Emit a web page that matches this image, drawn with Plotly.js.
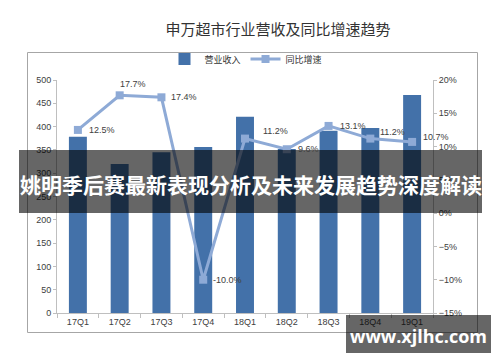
<!DOCTYPE html>
<html>
<head>
<meta charset="utf-8">
<script src="https://cdn.plot.ly/plotly-3.0.1.min.js"></script>
<style>
  html, body { margin: 0; padding: 0; background: #ffffff; }
  #chart { width: 500px; height: 362px; }
</style>
</head>
<body>
<div id="chart"></div>
<script>
// ---- data ----
const categories = ['17Q1', '17Q2', '17Q3', '17Q4', '18Q1', '18Q2', '18Q3', '18Q4', '19Q1'];
const revenue = [378, 320, 345, 356, 421, 352, 391, 397, 468];
const growth = [12.5, 17.7, 17.4, -10.0, 11.2, 9.6, 13.1, 11.2, 10.7];
const revenueName = '营业收入';
const growthName = '同比增速';
const chartTitle = '申万超市行业营收及同比增速趋势';
const bannerText = '姚明季后赛最新表现分析及未来发展趋势深度解读';
const watermarkText = 'www.xjlhc.com';

// ---- layout geometry (pixels) ----
const W = 500, H = 362;
const M = { l: 57, r: 67, t: 80, b: 49 };
const PW = W - M.l - M.r, PH = H - M.t - M.b;
const px = x => (x - M.l) / PW;
const py = y => (H - M.b - y) / PH;

const numFont = 'Liberation Sans, Arial, sans-serif';
const cjkFont = 'Noto Sans CJK SC, sans-serif';
const textCol = '#404040';
const barCol = '#4371a9';
const lineCol = '#8eaad6';

// label offsets relative to each marker (pixels)
const labelShift = [[9, 0], [-2, 11], [8, 0], [8, 0], [16, 8], [9, 0], [9, 0], [8, 7], [9, 5]];

const traces = [
  {
    type: 'bar', name: revenueName, x: categories, y: revenue,
    marker: { color: barCol }, yaxis: 'y', hoverinfo: 'x+y'
  },
  {
    type: 'scatter', mode: 'lines+markers', name: growthName, x: categories, y: growth,
    yaxis: 'y2', line: { color: lineCol, width: 3 },
    marker: { symbol: 'square', size: 8, color: lineCol }
  }
];

const annotations = growth.map((v, i) => ({
  x: categories[i], y: v, xref: 'x', yref: 'y2',
  text: v.toFixed(1) + '%', showarrow: false,
  xanchor: 'left', yanchor: 'middle',
  xshift: labelShift[i][0], yshift: labelShift[i][1],
  font: { family: numFont, size: 9, color: textCol }
}));

annotations.push({
  xref: 'paper', yref: 'paper', x: px(250.5), y: py(184),
  text: '<b>' + bannerText + '</b>', showarrow: false,
  xanchor: 'center', yanchor: 'middle',
  font: { family: cjkFont, size: 21, color: '#ffffff' }
});
annotations.push({
  xref: 'paper', yref: 'paper', x: px(418), y: py(336),
  text: '<b>' + watermarkText + '</b>', showarrow: false,
  xanchor: 'center', yanchor: 'middle',
  font: { family: 'Open Sans, sans-serif', size: 18, color: '#ffffff' }
});

const shapes = [
  { type: 'rect', xref: 'paper', yref: 'paper', layer: 'below',
    x0: px(27.5), x1: px(477.5), y0: py(332.5), y1: py(52.5),
    line: { color: '#a6a6a6', width: 1 }, fillcolor: 'rgba(0,0,0,0)' },
  { type: 'rect', xref: 'paper', yref: 'paper', layer: 'above',
    x0: px(19), x1: px(482), y0: py(213), y1: py(150),
    line: { width: 0 }, fillcolor: 'rgba(0,0,0,0.6)' },
  { type: 'rect', xref: 'paper', yref: 'paper', layer: 'above',
    x0: px(346), x1: px(491), y0: py(353), y1: py(315),
    line: { width: 0 }, fillcolor: 'rgba(0,0,0,0.6)' }
];

const layout = {
  width: W, height: H,
  margin: M,
  paper_bgcolor: '#ffffff', plot_bgcolor: '#ffffff',
  title: {
    text: chartTitle, xref: 'paper', x: px(278), xanchor: 'center',
    yref: 'container', y: 1 - 30 / H, yanchor: 'middle',
    font: { family: cjkFont, size: 15, color: '#333333' }
  },
  showlegend: true,
  legend: {
    orientation: 'h', x: px(246), xanchor: 'center', y: py(59), yanchor: 'middle',
    font: { family: cjkFont, size: 9, color: '#333333' },
    itemwidth: 30, tracegroupgap: 0, bgcolor: 'rgba(0,0,0,0)'
  },
  bargap: 0.57,
  xaxis: {
    type: 'category', range: [-0.5, categories.length - 0.5],
    showline: true, linecolor: '#bfbfbf', linewidth: 1,
    ticks: 'outside', tickson: 'boundaries', ticklen: 4, tickcolor: '#bfbfbf',
    showgrid: false, zeroline: false,
    tickfont: { family: numFont, size: 9, color: textCol }
  },
  yaxis: {
    range: [0, 500], dtick: 50, tick0: 0,
    showline: true, linecolor: '#bfbfbf', linewidth: 1,
    ticks: 'outside', ticklen: 3, tickcolor: '#bfbfbf',
    showgrid: false, zeroline: false,
    tickfont: { family: numFont, size: 9, color: textCol }
  },
  yaxis2: {
    overlaying: 'y', side: 'right', range: [-15, 20], dtick: 5, tick0: 0,
    ticksuffix: '%',
    showline: true, linecolor: '#bfbfbf', linewidth: 1,
    ticks: 'outside', ticklen: 3, tickcolor: '#bfbfbf',
    showgrid: false, zeroline: false,
    tickfont: { family: numFont, size: 9, color: textCol }
  },
  annotations: annotations,
  shapes: shapes
};

Plotly.newPlot('chart', traces, layout, { displayModeBar: false, staticPlot: true });
</script>
</body>
</html>
